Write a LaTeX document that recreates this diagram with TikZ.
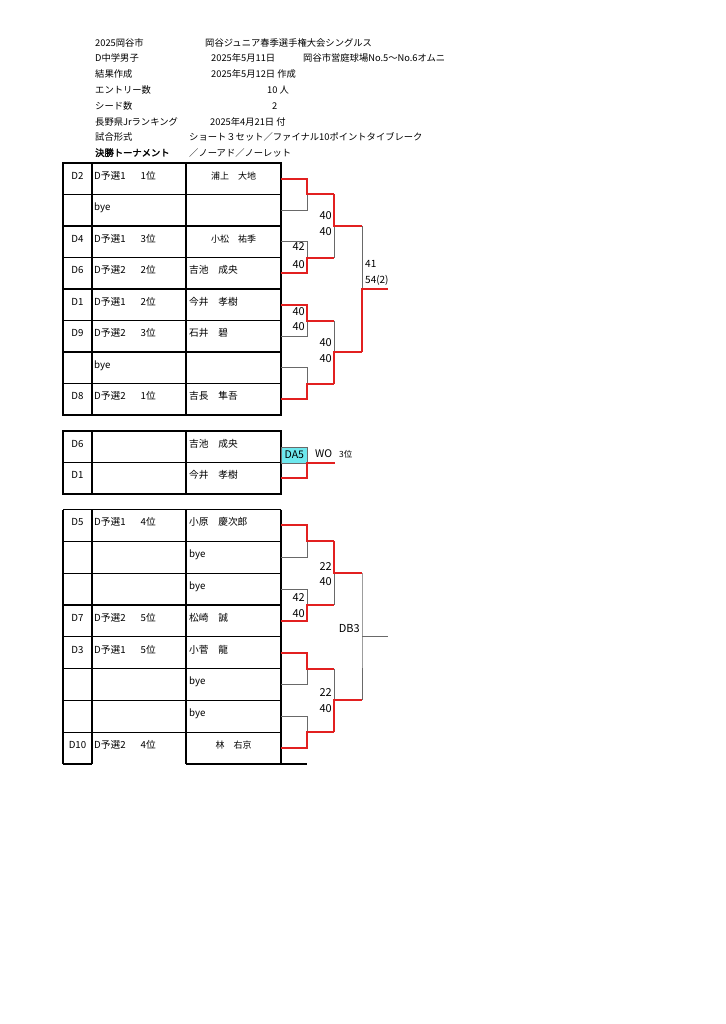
\documentclass[tikz,border=0pt]{standalone}
\usepackage{fontspec}
\setmainfont{Noto Sans CJK JP}
\newfontfamily\jpbold{Noto Sans CJK JP}[FakeBold=2]
\definecolor{brred}{RGB}{226,32,32}
\definecolor{brgray}{RGB}{105,105,105}
\definecolor{dacyan}{RGB}{110,232,238}
\begin{document}
\begin{tikzpicture}[x=1pt,y=-1pt,
  tline/.style={draw=black,line width=1.2pt},
  gl/.style={draw=brgray,line width=1pt},
  rl/.style={draw=brred,line width=2pt,line join=miter},
  hd/.style={anchor=base west,inner sep=0,font=\fontsize{9.3pt}{11pt}\selectfont},
  cl/.style={anchor=base west,inner sep=0,font=\fontsize{9.7pt}{11pt}\selectfont},
  cc/.style={anchor=base,inner sep=0,font=\fontsize{9.7pt}{11pt}\selectfont},
  nm/.style={anchor=base,inner sep=0,font=\fontsize{9pt}{11pt}\selectfont},
  sc/.style={anchor=base east,inner sep=0,font=\fontsize{11pt}{13pt}\selectfont},
  scw/.style={anchor=base west,inner sep=0,font=\fontsize{10pt}{12pt}\selectfont}]
\useasboundingbox[fill=white] (0,0) rectangle (725,1024);

% ---------------- header ----------------
\node[hd] (h1a) at (95,46.2) {2025岡谷市};
\node[hd] (h1b) at (205,46.2) {岡谷ジュニア春季選手権大会シングルス};
\node[hd] (h2a) at (95,61.8) {D中学男子};
\node[hd] (h2b) at (211,61.8) {2025年5月11日};
\node[hd] (h2c) at (303,61.8) {岡谷市営庭球場No.5～No.6オムニ};
\node[hd] (h3a) at (95,77.8) {結果作成};
\node[hd] (h3b) at (211,77.8) {2025年5月12日 作成};
\node[hd] (h4a) at (95,93.5) {エントリー数};
\node[hd] (h4b) at (267,93.5) {10 人};
\node[hd] (h5a) at (95,109.2) {シード数};
\node[hd] (h5b) at (272,109.2) {2};
\node[hd] (h6a) at (95,125.2) {長野県Jrランキング};
\node[hd] (h6b) at (210,125.2) {2025年4月21日 付};
\node[hd] (h7a) at (95,140.8) {試合形式};
\node[hd] (h7b) at (189,140.8) {ショート３セット／ファイナル10ポイントタイブレーク};
\node[hd] (h8a) at (95,156.2) {\jpbold 決勝トーナメント};
\node[hd] (h8b) at (189,156.2) {／ノーアド／ノーレット};

% ---------------- tables ----------------
% top table
\draw[tline] (63,163) rectangle (281,415);
\foreach \i in {1,...,7} \draw[tline] (63,163+31.5*\i) -- (281,163+31.5*\i);
\draw[tline] (92,163) -- (92,415);
\draw[tline] (186,163) -- (186,415);
% third place table
\draw[tline] (63,431) rectangle (281,494);
\draw[tline] (63,462.5) -- (281,462.5);
\draw[tline] (92,431) -- (92,494);
\draw[tline] (186,431) -- (186,494);
% bottom table
\draw[tline] (63,509.5) -- (281,509.5);
\foreach \i in {1,...,7} \draw[tline] (63,509.5+31.8*\i) -- (281,509.5+31.8*\i);
\draw[tline] (63,509.5) -- (63,764);
\draw[tline] (92,509.5) -- (92,764);
\draw[tline] (186,509.5) -- (186,764);
\draw[tline] (281,509.5) -- (281,764);
\draw[tline] (63,764) -- (92,764);
\draw[tline] (186,764) -- (307,764);

% ---------------- cell texts: top ----------------
\node[cc] (a1) at (77.5,179.2) {D2};
\node[cl] (b1) at (94,179.2) {D予選1\hspace{15pt}1位};
\node[nm] (c1) at (233.5,179.2) {浦上　大地};
\node[cl] (b2) at (94,210.7) {bye};
\node[cc] (a3) at (77.5,242.2) {D4};
\node[cl] (b3) at (94,242.2) {D予選1\hspace{15pt}3位};
\node[nm] (c3) at (233.5,242.2) {小松　祐季};
\node[cc] (a4) at (77.5,273.7) {D6};
\node[cl] (b4) at (94,273.7) {D予選2\hspace{15pt}2位};
\node[cl] (c4) at (189,273.7) {吉池　成央};
\node[cc] (a5) at (77.5,305.2) {D1};
\node[cl] (b5) at (94,305.2) {D予選1\hspace{15pt}2位};
\node[cl] (c5) at (189,305.2) {今井　孝樹};
\node[cc] (a6) at (77.5,336.7) {D9};
\node[cl] (b6) at (94,336.7) {D予選2\hspace{15pt}3位};
\node[cl] (c6) at (189,336.7) {石井　碧};
\node[cl] (b7) at (94,368.2) {bye};
\node[cc] (a8) at (77.5,399.7) {D8};
\node[cl] (b8) at (94,399.7) {D予選2\hspace{15pt}1位};
\node[cl] (c8) at (189,399.7) {吉長　隼吾};

% ---------------- cell texts: third place ----------------
\node[cc] (pa1) at (77.5,447.2) {D6};
\node[cl] (pc1) at (189,447.2) {吉池　成央};
\node[cc] (pa2) at (77.5,478.7) {D1};
\node[cl] (pc2) at (189,478.7) {今井　孝樹};

% ---------------- cell texts: bottom ----------------
\node[cc] (qa1) at (77.5,525.9) {D5};
\node[cl] (qb1) at (94,525.9) {D予選1\hspace{15pt}4位};
\node[cl] (qc1) at (189,525.9) {小原　慶次郎};
\node[cl] (qc2) at (189,557.7) {bye};
\node[cl] (qc3) at (189,589.5) {bye};
\node[cc] (qa4) at (77.5,621.3) {D7};
\node[cl] (qb4) at (94,621.3) {D予選2\hspace{15pt}5位};
\node[cl] (qc4) at (189,621.3) {松崎　誠};
\node[cc] (qa5) at (77.5,653.1) {D3};
\node[cl] (qb5) at (94,653.1) {D予選1\hspace{15pt}5位};
\node[cl] (qc5) at (189,653.1) {小菅　龍};
\node[cl] (qc6) at (189,684.9) {bye};
\node[cl] (qc7) at (189,716.7) {bye};
\node[cc] (qa8) at (77.5,748.5) {D10};
\node[cl] (qb8) at (94,748.5) {D予選2\hspace{15pt}4位};
\node[nm] (qc8) at (233.5,748.5) {林　右京};

% ---------------- top bracket coordinates ----------------
\foreach \n/\y in {1/178.75,2/210.25,3/241.75,4/273.25,5/304.75,6/336.25,7/367.75,8/399.25}{
  \coordinate (ta\n) at (281,\y);
  \coordinate (tb\n) at (307,\y);
}
\foreach \n/\y in {1/194.5,2/257.5,3/320.5,4/383.5}{
  \coordinate (tm\n) at (307,\y);
  \coordinate (tn\n) at (334,\y);
}
\coordinate (ts1) at (334,226);   \coordinate (tt1) at (362,226);
\coordinate (ts2) at (334,352);   \coordinate (tt2) at (362,352);
\coordinate (tf) at (362,289);    \coordinate (tg) at (388,289);

% gray (losers)
\draw[gl] (ta2) -- (tb2) -- (tm1);
\draw[gl] (ta3) -- (tb3) -- (tm2);
\draw[gl] (ta6) -- (tb6) -- (tm3);
\draw[gl] (ta7) -- (tb7) -- (tm4);
\draw[gl] (tn2) -- (ts1);
\draw[gl] (tn3) -- (ts2);
\draw[gl] (tt1) -- (tf);
% red (winners)
\draw[rl] (ta1) -- (tb1) -- (tm1) -- (tn1);
\draw[rl] (ta4) -- (tb4) -- (tm2) -- (tn2);
\draw[rl] (ta5) -- (tb5) -- (tm3) -- (tn3);
\draw[rl] (ta8) -- (tb8) -- (tm4) -- (tn4);
\draw[rl] (tn1) -- (ts1) -- (tt1);
\draw[rl] (tn4) -- (ts2) -- (tt2);
\draw[rl] (tt2) -- (tf) -- (tg);

% scores top
\node[sc] (s1a) at (305,251) {42};
\node[sc] (s1b) at (305,268) {40};
\node[sc] (s2a) at (332,220) {40};
\node[sc] (s2b) at (332,236) {40};
\node[sc] (s3a) at (305,315) {40};
\node[sc] (s3b) at (305,330) {40};
\node[sc] (s4a) at (332,346) {40};
\node[sc] (s4b) at (332,362) {40};
\node[scw] (s5a) at (365,267) {41};
\node[scw] (s5b) at (365,283) {54(2)};

% ---------------- third place ----------------
\coordinate (pa) at (281,478.25);
\coordinate (pb) at (307,478.25);
\coordinate (pm) at (307,462.5);
\coordinate (pn) at (335,462.5);
\node[draw=brgray,line width=0.8pt,fill=dacyan,anchor=north west,minimum width=26pt,minimum height=15.75pt,inner sep=0,
      font=\fontsize{10.5pt}{12pt}\selectfont] (da5) at (281,446.75) {DA5};
\draw[rl] (pa) -- (pb) -- (pm) -- (pn);
\node[scw,font=\fontsize{10.5pt}{12pt}\selectfont] (wo) at (315,457.5) {WO};
\node[scw,font=\fontsize{8.5pt}{10pt}\selectfont] (th) at (339,457.5) {3位};

% ---------------- bottom bracket coordinates ----------------
\foreach \n/\y in {1/525.4,2/557.2,3/589.0,4/620.8,5/652.6,6/684.4,7/716.2,8/748.0}{
  \coordinate (qa\n x) at (281,\y);
  \coordinate (qb\n x) at (307,\y);
}
\foreach \n/\y in {1/541.3,2/604.9,3/668.5,4/732.1}{
  \coordinate (qm\n) at (307,\y);
  \coordinate (qn\n) at (334,\y);
}
\coordinate (qs1) at (334,573.1);  \coordinate (qt1) at (362,573.1);
\coordinate (qs2) at (334,700.3);  \coordinate (qt2) at (362,700.3);
\coordinate (qf) at (362,636.7);   \coordinate (qg) at (388,636.7);

\draw[gl] (qa2x) -- (qb2x) -- (qm1);
\draw[gl] (qa3x) -- (qb3x) -- (qm2);
\draw[gl] (qa6x) -- (qb6x) -- (qm3);
\draw[gl] (qa7x) -- (qb7x) -- (qm4);
\draw[gl] (qn2) -- (qs1);
\draw[gl] (qn3) -- (qs2);
\draw[gl] (qt1) -- (qf) -- (qt2);
\draw[gl] (qf) -- (qg);
\draw[rl] (qa1x) -- (qb1x) -- (qm1) -- (qn1);
\draw[rl] (qa4x) -- (qb4x) -- (qm2) -- (qn2);
\draw[rl] (qa5x) -- (qb5x) -- (qm3) -- (qn3);
\draw[rl] (qa8x) -- (qb8x) -- (qm4) -- (qn4);
\draw[rl] (qn1) -- (qs1) -- (qt1);
\draw[rl] (qn4) -- (qs2) -- (qt2);

\node[sc] (u1a) at (332,570) {22};
\node[sc] (u1b) at (332,585) {40};
\node[sc] (u2a) at (305,601) {42};
\node[sc] (u2b) at (305,617) {40};
\node[sc] (u3a) at (332,696) {22};
\node[sc] (u3b) at (332,712) {40};
\node[sc] (db3) at (360,632) {DB3};
\end{tikzpicture}
\end{document}
